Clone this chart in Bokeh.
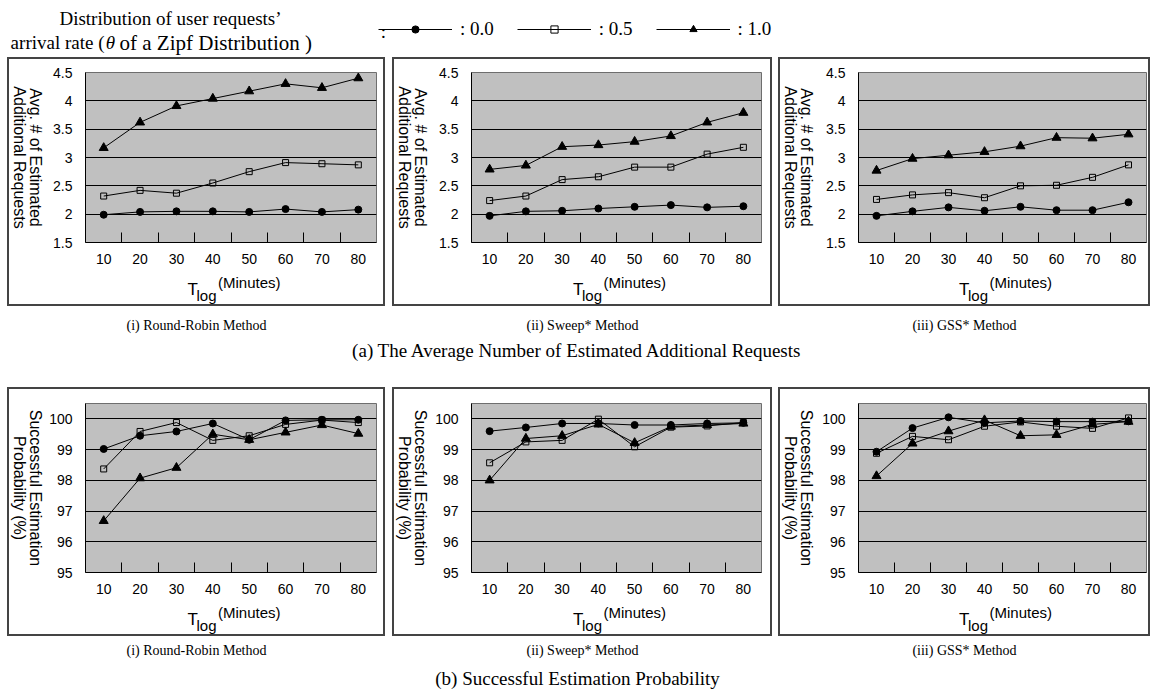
import math
from bokeh.plotting import figure
from bokeh.models import (Range1d, FixedTicker, Label, Legend, LegendItem,
                          NumeralTickFormatter, Spacer)
from bokeh.layouts import column, row
from bokeh.embed import file_html
from bokeh.resources import INLINE

# ---------------- data ----------------
t_log = [10, 20, 30, 40, 50, 60, 70, 80]
t_bounds = [15, 25, 35, 45, 55, 65, 75]
theta_labels = [": 0.0", ": 0.5", ": 1.0"]
method_titles = ["(i) Round-Robin Method", "(ii) Sweep* Method", "(iii) GSS* Method"]
title_a = "(a) The Average Number of Estimated Additional Requests"
title_b = "(b) Successful Estimation Probability"

req_ticks = [1.5, 2, 2.5, 3, 3.5, 4, 4.5]
prob_ticks = [95, 96, 97, 98, 99, 100]

# (a) average number of estimated additional requests
rr_req_00 = [1.99, 2.04, 2.05, 2.05, 2.04, 2.09, 2.04, 2.08]
rr_req_05 = [2.32, 2.42, 2.37, 2.55, 2.75, 2.91, 2.89, 2.87]
rr_req_10 = [3.17, 3.62, 3.91, 4.04, 4.17, 4.30, 4.23, 4.40]
sw_req_00 = [1.97, 2.05, 2.06, 2.10, 2.13, 2.16, 2.12, 2.14]
sw_req_05 = [2.24, 2.32, 2.61, 2.66, 2.83, 2.83, 3.06, 3.18]
sw_req_10 = [2.79, 2.86, 3.19, 3.22, 3.28, 3.38, 3.62, 3.79]
gss_req_00 = [1.97, 2.05, 2.12, 2.06, 2.13, 2.07, 2.07, 2.21]
gss_req_05 = [2.26, 2.34, 2.38, 2.29, 2.50, 2.51, 2.65, 2.87]
gss_req_10 = [2.77, 2.98, 3.04, 3.10, 3.20, 3.35, 3.34, 3.41]

# (b) successful estimation probability (%)
rr_prob_00 = [99.02, 99.45, 99.59, 99.85, 99.32, 99.95, 99.97, 99.97]
rr_prob_05 = [98.37, 99.59, 99.88, 99.30, 99.45, 99.82, 99.96, 99.88]
rr_prob_10 = [96.68, 98.07, 98.41, 99.50, 99.32, 99.56, 99.80, 99.52]
sw_prob_00 = [99.60, 99.72, 99.85, 99.85, 99.80, 99.80, 99.85, 99.87]
sw_prob_05 = [98.57, 99.25, 99.30, 99.99, 99.09, 99.73, 99.77, 99.88]
sw_prob_10 = [98.00, 99.36, 99.45, 99.82, 99.22, 99.75, 99.80, 99.85]
gss_prob_00 = [98.93, 99.70, 100.05, 99.87, 99.93, 99.91, 99.91, 99.92]
gss_prob_05 = [98.88, 99.43, 99.32, 99.76, 99.90, 99.76, 99.69, 100.03]
gss_prob_10 = [98.14, 99.20, 99.60, 99.96, 99.45, 99.48, 99.82, 99.91]

# ---------------- styles ----------------
SANS = "Liberation Sans"
SERIF = "Liberation Serif"
MARKERS = [("circle", 7, "black"), ("square", 6, None), ("triangle", 9, "black")]
BOX = {"outline": "2px solid #444444", "outline-offset": "-2px"}

BOX_W = [378, 380, 372]
FRAME_L = [78, 79, 80]      # frame left, relative to box left
FRAME_W = [291, 290, 288]
YT_W = 39                   # width of the y-title strip
TOP_H = 213                 # height of the plot part of a box
XT_H = 36                   # height of the x-title strip
GAPS = [7, 7, 6]


def blank(width, height):
    p = figure(width=width, height=height, x_range=Range1d(0, 1), y_range=Range1d(0, 1),
               output_backend="svg", toolbar_location=None,
               x_axis_location=None, y_axis_location=None,
               min_border=0, outline_line_color=None, border_fill_color=None,
               background_fill_color=None)
    p.grid.visible = False
    return p


def lab(fig, x, y, text, size, font=SANS, align="center", baseline="middle",
        style="normal"):
    fig.add_layout(Label(x=x, y=y, x_units="screen", y_units="screen", text=text,
                         text_align=align, text_baseline=baseline,
                         text_font=font, text_font_size=size, text_font_style=style,
                         text_color="black"))


def ytitle_strip(text, centre_from_top):
    # a right-hand axis label reads top to bottom, as in the reference
    s = figure(width=YT_W, height=TOP_H, x_range=Range1d(0, 1), y_range=Range1d(0, 1),
               output_backend="svg", toolbar_location=None,
               x_axis_location=None, y_axis_location="right",
               min_border=0, min_border_top=0,
               min_border_bottom=int(round(TOP_H - 2 * centre_from_top)),
               outline_line_color=None, border_fill_color=None, background_fill_color=None)
    s.grid.visible = False
    ax = s.yaxis[0]
    ax.ticker = FixedTicker(ticks=[])
    ax.axis_line_color = None
    ax.major_tick_line_color = None
    ax.minor_tick_line_color = None
    ax.major_tick_out = 0
    ax.major_tick_in = 0
    ax.minor_tick_out = 0
    ax.minor_tick_in = 0
    ax.major_label_standoff = 0
    ax.axis_label = text
    ax.axis_label_standoff = 0
    ax.axis_label_text_font = SANS
    ax.axis_label_text_font_size = "16px"
    ax.axis_label_text_font_style = "normal"
    ax.axis_label_text_color = "black"
    ax.axis_label_text_line_height = 0.95
    return s


def panel(i, top, fh, yr, yticks, ylab, series):
    bw = BOX_W[i]
    pw = bw - YT_W
    left = FRAME_L[i] - YT_W
    right = bw - FRAME_L[i] - FRAME_W[i]
    bottom = TOP_H - top - fh
    p = figure(width=pw, height=TOP_H, x_range=Range1d(5, 85), y_range=Range1d(*yr),
               output_backend="svg", toolbar_location=None,
               min_border_left=left, min_border_right=right,
               min_border_top=top, min_border_bottom=bottom,
               background_fill_color="#c0c0c0", border_fill_color=None,
               outline_line_color="#6e6e6e", outline_line_width=1)
    xa = p.xaxis[0]
    xa.ticker = FixedTicker(ticks=t_log, minor_ticks=t_bounds)
    xa.major_tick_line_color = None
    xa.minor_tick_in = 10
    xa.minor_tick_out = 0
    xa.minor_tick_line_color = "black"
    xa.axis_line_color = "black"
    xa.major_label_standoff = 5
    xa.major_label_text_font = SANS
    xa.major_label_text_font_size = "14px"
    xa.major_label_text_color = "black"

    ya = p.yaxis[0]
    ya.ticker = FixedTicker(ticks=yticks)
    ya.formatter = NumeralTickFormatter(format="0.[0]")
    ya.major_tick_line_color = None
    ya.minor_tick_line_color = None
    ya.axis_line_color = "black"
    ya.major_label_standoff = 7
    ya.major_label_text_font = SANS
    ya.major_label_text_font_size = "14px"
    ya.major_label_text_color = "black"

    p.xgrid.visible = False
    p.ygrid.ticker = FixedTicker(ticks=yticks)
    p.ygrid.grid_line_color = "black"

    for ys, (mk, sz, fill) in zip(series, MARKERS):
        p.line(t_log, ys, line_color="black", line_width=1)
        p.scatter(t_log, ys, marker=mk, size=sz, line_color="black", fill_color=fill)

    yt = ytitle_strip(ylab, top + fh / 2)

    # x title strip: T_log (Minutes)
    xt = blank(bw, XT_H)
    c = FRAME_L[i] + FRAME_W[i] / 2
    lab(xt, c - 43.5, 17, "T", "17px", align="left", baseline="alphabetic")
    lab(xt, c - 34.5, 11, "log", "15px", align="left", baseline="alphabetic")
    lab(xt, c - 13, 24, "(Minutes)", "15px", align="left", baseline="alphabetic")

    return column(row(yt, p, spacing=0), xt, spacing=0, styles=BOX)


# first line ends up on the right once turned to read top to bottom
req_label = "Avg. # of Estimated\nAdditional Requests"
prob_label = "Successful Estimation\nProbability (%)"

req_series = [[rr_req_00, rr_req_05, rr_req_10],
              [sw_req_00, sw_req_05, sw_req_10],
              [gss_req_00, gss_req_05, gss_req_10]]
prob_series = [[rr_prob_00, rr_prob_05, rr_prob_10],
               [sw_prob_00, sw_prob_05, sw_prob_10],
               [gss_prob_00, gss_prob_05, gss_prob_10]]

boxes_a = [panel(i, 15, 170, (1.5, 4.5), req_ticks, req_label, req_series[i])
           for i in range(3)]
boxes_b = [panel(i, 16, 169, (95, 100.5), prob_ticks, prob_label, prob_series[i])
           for i in range(3)]


def box_row(boxes):
    kids = []
    for g, b in zip(GAPS, boxes):
        kids.append(Spacer(width=g, height=249))
        kids.append(b)
    return row(*kids, spacing=0)


# ---------------- header with legend ----------------
PAGE_W = 1150
head = blank(PAGE_W, 57)
lab(head, 170, 39, "Distribution of user requests\u2019", "19px", font=SERIF)
lab(head, 104, 15, "arrival rate (", "19px", font=SERIF, align="right")
lab(head, 110, 15, "\u03b8", "19px", font=SERIF, style="italic")
lab(head, 119, 15, "of a Zipf Distribution )", "21px", font=SERIF, align="left")
lab(head, 383, 26, ":", "19px", font=SERIF)

items = []
for lbl, ys, (mk, sz, fill) in zip(theta_labels, req_series[0], MARKERS):
    lr = head.line(x=t_log[:1], y=ys[:1], line_color="black", line_width=1, visible=False)
    sr = head.scatter(x=t_log[:1], y=ys[:1], marker=mk, size=sz, line_color="black",
                      fill_color=fill, visible=False)
    items.append(LegendItem(label=lbl, renderers=[lr, sr]))
leg = Legend(items=items, location=(378, 17), orientation="horizontal",
             glyph_width=74, glyph_height=18, label_height=18, label_standoff=8,
             spacing=23, padding=0, margin=0, border_line_color=None,
             background_fill_alpha=0, inactive_fill_alpha=0,
             label_text_font=SERIF, label_text_font_size="19px", label_text_color="black")
head.add_layout(leg)

# ---------------- captions ----------------
centers = [196, 582, 964]


def captions(height, y_sub, y_title, title):
    c = blank(PAGE_W, height)
    for x, t in zip(centers, method_titles):
        lab(c, x, y_sub, t, "14px", font=SERIF)
    lab(c, 577, y_title, title, "19px", font=SERIF)
    return c


cap_a = captions(81, 62, 37, title_a)
cap_b = captions(60, 46, 18, title_b)

layout = column(head, box_row(boxes_a), cap_a, box_row(boxes_b), cap_b, spacing=0)

open("out.html", "w").write(file_html(layout, INLINE))
